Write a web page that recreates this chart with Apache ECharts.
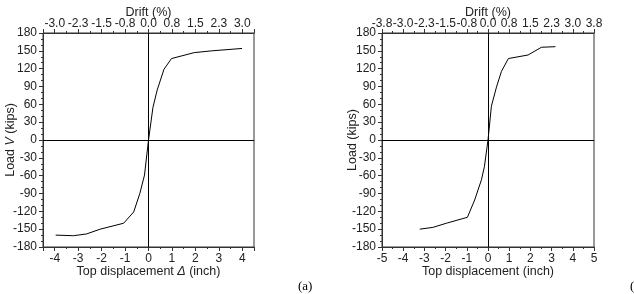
<!DOCTYPE html>
<html>
<head>
<meta charset="utf-8">
<script src="https://cdn.jsdelivr.net/npm/echarts@6/dist/echarts.min.js"></script>
<style>
  html, body { margin: 0; padding: 0; background: #fff; }
  #chart { width: 634px; height: 294px; }
</style>
</head>
<body>
<div id="chart"></div>
<script>
// (a) 左图：位移 / 荷载
const dispA = [-3.96, -3.2, -2.64, -2.06, -1.06, -0.63, -0.37, -0.17, 0, 0.19, 0.37, 0.66, 0.98, 1.95, 2.7, 3.99];
const loadA = [-160, -161, -158, -150, -140, -121, -90, -59, 0, 55, 84, 119, 137, 147, 150, 154];
// (b) 右图
const dispB = [-3.22, -2.6, -1.96, -0.97, -0.63, -0.31, -0.17, 0, 0.16, 0.4, 0.63, 0.96, 1.89, 2.52, 3.18];
const loadB = [-150, -147, -140, -130, -101, -67, -45, 0, 57, 89, 115, 137, 143, 156, 157];
// 位移(inch) -> 层间位移角(%)
const driftRatio = 0.75;

const axisColor = "#333";
const font = "Liberation Sans";

function pairs(xs, ys) {
    let out = [];
    for (let i = 0; i < xs.length; i++) {
        out.push([xs[i], ys[i]]);
    }
    return out;
}

function xAxes(gridIndex, min, max, showEnds, nameRich) {
    let base = {
        gridIndex: gridIndex,
        type: "value",
        min: min,
        max: max,
        splitNumber: Math.round(max - min),
        splitLine: { show: false },
        axisLine: { onZero: false, lineStyle: { color: axisColor } },
        axisTick: { inside: false, length: 4, lineStyle: { color: axisColor } },
        minorTick: { show: true, splitNumber: 2, length: 2, lineStyle: { color: axisColor } },
        nameLocation: "middle",
        nameMoveOverlap: false,
        nameTextStyle: { fontFamily: font, fontSize: 12.5, color: "#222" }
    };
    let bottom = Object.assign({}, base, {
        position: "bottom",
        name: nameRich.text,
        nameGap: 18,
        nameTextStyle: Object.assign({}, base.nameTextStyle, { rich: nameRich.rich }),
        axisLabel: {
            showMinLabel: showEnds, showMaxLabel: showEnds, margin: 6,
            fontFamily: font, fontSize: 12, color: "#222"
        }
    });
    let top = Object.assign({}, base, {
        position: "top",
        name: "Drift (%)",
        nameGap: 14,
        axisLabel: {
            showMinLabel: showEnds, showMaxLabel: showEnds, margin: 3,
            fontFamily: font, fontSize: 12, color: "#222",
            formatter: function (v) { return (v * driftRatio).toFixed(1); }
        }
    });
    return [bottom, top];
}

function yAxis(gridIndex, gap, nameRich) {
    return {
        gridIndex: gridIndex,
        type: "value",
        min: -180,
        max: 180,
        interval: 30,
        splitLine: { show: false },
        axisLine: { onZero: false, lineStyle: { color: axisColor } },
        axisTick: { inside: false, length: 4, lineStyle: { color: axisColor } },
        minorTick: { show: true, splitNumber: 3, length: 2, lineStyle: { color: axisColor } },
        axisLabel: { margin: 6, fontFamily: font, fontSize: 12, color: "#222" },
        name: nameRich.text,
        nameLocation: "middle",
        nameGap: gap,
        nameMoveOverlap: false,
        nameTextStyle: { fontFamily: font, fontSize: 12.5, color: "#222", rich: nameRich.rich }
    };
}

const richBase = { fontFamily: font, fontSize: 12.5, color: "#222" };
const richItalic = { fontFamily: font, fontSize: 12.5, color: "#222", fontStyle: "italic" };

const zeroLines = {
    silent: true,
    symbol: "none",
    label: { show: false },
    lineStyle: { color: "#000", type: "solid", width: 1 },
    data: [{ xAxis: 0 }, { yAxis: 0 }]
};

let myChart = echarts.init(document.getElementById("chart"));
let xa = xAxes(0, -4.5, 4.5, false, {
    text: "{a|Top displacement }{i|Δ}{a| (inch)}",
    rich: { a: richBase, i: richItalic }
});
let xb = xAxes(1, -5, 5, true, { text: "Top displacement (inch)", rich: {} });

let option = {
    animation: false,
    grid: [
        { left: 43, right: 380, top: 33, bottom: 47, show: true, borderColor: axisColor, borderWidth: 1, outerBoundsMode: "none" },
        { left: 382, right: 40, top: 33, bottom: 47, show: true, borderColor: axisColor, borderWidth: 1, outerBoundsMode: "none" }
    ],
    xAxis: [xa[0], xa[1], xb[0], xb[1]],
    yAxis: [
        yAxis(0, 26, { text: "{a|Load }{i|V}{a| (kips)}", rich: { a: richBase, i: richItalic } }),
        yAxis(1, 23, { text: "Load (kips)", rich: {} })
    ],
    series: [
        {
            type: "line", xAxisIndex: 0, yAxisIndex: 0,
            data: pairs(dispA, loadA), symbol: "none",
            lineStyle: { color: "#000", width: 1 },
            markLine: zeroLines
        },
        {
            type: "line", xAxisIndex: 2, yAxisIndex: 1,
            data: pairs(dispB, loadB), symbol: "none",
            lineStyle: { color: "#000", width: 1 },
            markLine: zeroLines
        }
    ],
    graphic: [
        { type: "text", left: 298, top: 280, style: { text: "(a)", font: "13px 'Liberation Serif'", fill: "#000" } },
        { type: "text", left: 630, top: 280, style: { text: "(b)", font: "13px 'Liberation Serif'", fill: "#000" } }
    ]
};
myChart.setOption(option);
</script>
</body>
</html>
